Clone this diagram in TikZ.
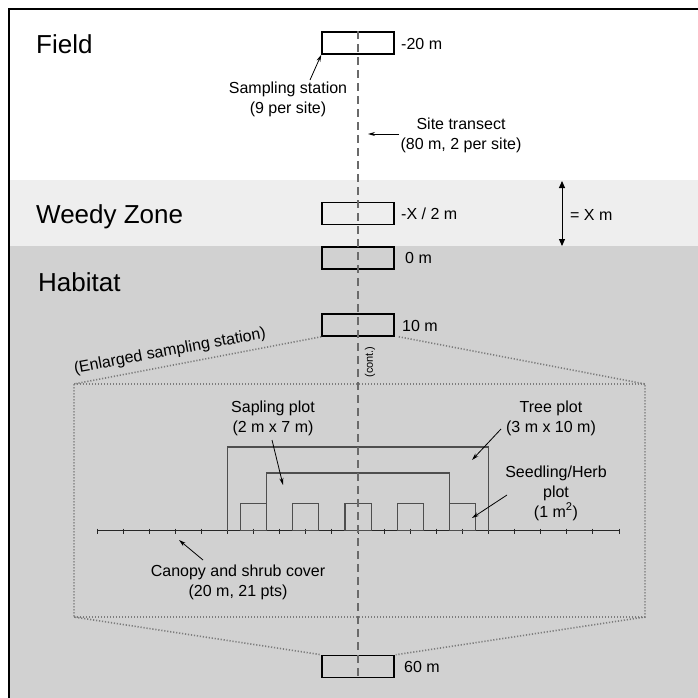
\documentclass[tikz,border=0pt]{standalone}
\usepackage{fontspec}
\setmainfont{Liberation Sans}
\usetikzlibrary{arrows.meta}
\definecolor{weedy}{HTML}{EEEEEE}
\definecolor{habitat}{HTML}{D1D1D1}
\definecolor{dashc}{HTML}{6A6A6A}
\definecolor{dotc}{HTML}{7C7C7C}
\definecolor{plotc}{HTML}{4E4E4E}
\begin{document}
\begin{tikzpicture}[x=1pt,y=-1pt,
  station/.style={draw=black,line width=1.5pt,minimum width=72pt,minimum height=22pt,inner sep=0pt},
  lbl/.style={font=\fontsize{16}{20}\selectfont,inner sep=0pt,align=center},
  mlbl/.style={font=\fontsize{16}{20}\selectfont,inner sep=0pt,anchor=west},
  zone/.style={font=\fontsize{26}{30}\selectfont,anchor=base west,inner sep=0pt},
  poi/.style={-{Stealth[length=7pt,width=4pt]},line width=0.8pt},
  dotl/.style={draw=dotc,line width=1.6pt,dash pattern=on 1.2pt off 1.8pt},
  plotl/.style={draw=plotc,line width=1.1pt},
  tline/.style={draw=dashc,line width=2pt,dash pattern=on 8pt off 5pt}
]
\useasboundingbox (0,0) rectangle (698,698);
% backgrounds
\fill[white] (0,0) rectangle (698,698);
\fill[weedy] (9,180) rectangle (698,246);
\fill[habitat] (9,246) rectangle (698,698);
\draw[line width=2.5pt] (9,698) -- (9,9) -- (698,9);

% zone titles
\node[zone] (field) at (36,53.5) {Field};
\node[zone] (weedy) at (36,223) {Weedy Zone};
\node[zone] (habitat) at (38,291) {Habitat};

% stations
\node[station] (s20) at (358,43) {};
\node[station] (sx2) at (358,213.5) {};
\node[station] (s0) at (358,258) {};
\node[station] (s10) at (358,325) {};
\node[station] (s60) at (358,666.5) {};

\node[mlbl] (l20) at (401,44) {-20 m};
\node[mlbl] (lx2) at (401,214) {-X / 2 m};
\node[mlbl] (l0) at (405,258) {0 m};
\node[mlbl] (l10) at (402,326) {10 m};
\node[mlbl] (l60) at (404,667) {60 m};

% enlarged station
\coordinate (tl) at (74,384);
\coordinate (tr) at (645,384);
\coordinate (bl) at (74,617);
\coordinate (br) at (645,617);
\draw[dotl] (s10.south west) -- (tl) -- (bl) -- (s60.north west);
\draw[dotl] ([xshift=4pt]s10.south east) -- (tr) -- (br) -- ([xshift=1pt]s60.north east);
\draw[dotl] (tl) -- (tr);
\draw[dotl] (bl) -- (br);
\node[lbl,rotate=10.5] (enl) at (170,351.5) {(Enlarged sampling station)};

% canopy line with 21 points
\coordinate (c0) at (97,530.5);
\coordinate (c20) at (619,530.5);
\draw[line width=1.2pt,draw=black!85] (c0) -- (c20);
\foreach \i in {0,...,20} \draw[line width=0.9pt,draw=black!85] (97+\i*26.1,528.5) -- (97+\i*26.1,533.5);

% tree plot and sapling plot
\draw[plotl] (227.5,530.5) |- (488.5,447) -- (488.5,530.5);
\draw[plotl] (266.65,530.5) |- (449.35,473) -- (449.35,530.5);
\foreach \c in {6,8,10,12,14}
  \draw[plotl] (97+\c*26.1-13.05,530.5) rectangle (97+\c*26.1+13.05,503.5);

% transect line
\draw[tline] (s20.north) -- (s60.south);

% labels and pointers
\node[lbl] (samp) at (288,99) {Sampling station\\(9 per site)};
\coordinate (sampt) at (310,80);
\draw[poi] (sampt) -- (s20.south west);

\node[lbl] (trans) at (461,135.5) {Site transect\\(80 m, 2 per site)};
\coordinate (transt) at (399,134);
\coordinate (transh) at (368,134);
\draw[poi] (transt) -- (transh);

\coordinate (xa) at (562,181);
\coordinate (xb) at (562,246);
\draw[{Triangle[length=7pt,width=6pt]}-{Triangle[length=7pt,width=6pt]},line width=1pt] (xa) -- (xb);
\node[mlbl] (xlbl) at (570,215) {= X m};

\node[font=\fontsize{11}{13}\selectfont,inner sep=0pt,rotate=90] (cont) at (370,362) {(cont.)};

\node[lbl] (sap) at (273,418.5) {Sapling plot\\(2 m x 7 m)};
\coordinate (sapt) at (272,440);
\coordinate (saph) at (283,485);
\draw[poi] (sapt) -- (saph);

\node[lbl] (tree) at (551,418.5) {Tree plot\\(3 m x 10 m)};
\coordinate (treet) at (501,429);
\coordinate (treeh) at (472,460);
\draw[poi] (treet) -- (treeh);

\node[lbl] (seed) at (556,493) {Seedling/Herb\\plot\\(1 m\textsuperscript{2})};
\coordinate (seedt) at (507,495);
\coordinate (seedh) at (472,518);
\draw[poi] (seedt) -- (seedh);

\node[lbl] (can) at (238,582) {Canopy and shrub cover\\(20 m, 21 pts)};
\coordinate (cant) at (203,560);
\coordinate (canh) at (179,540);
\draw[poi] (cant) -- (canh);
\end{tikzpicture}
\end{document}
